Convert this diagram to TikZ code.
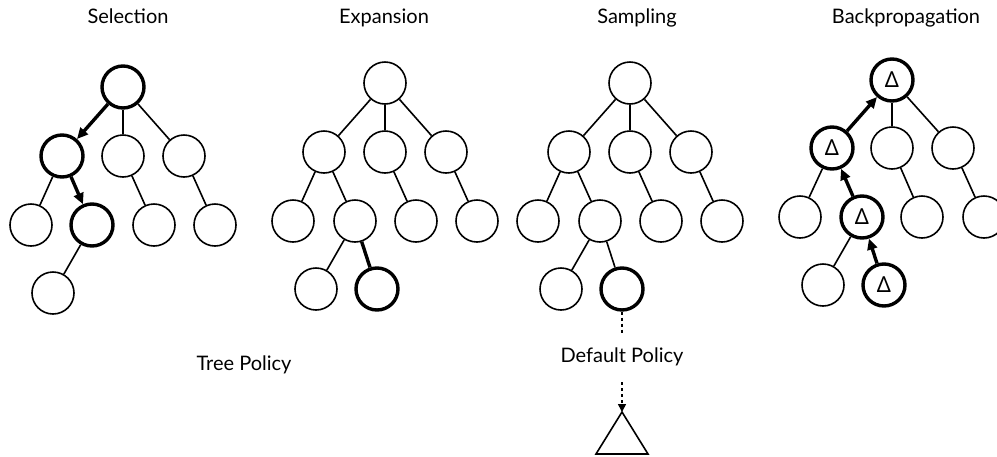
\documentclass[tikz,border=0pt]{standalone}
\usepackage{fontspec}
\setmainfont{Lato}
\newfontfamily\deltafont{Noto Sans}
\usetikzlibrary{arrows.meta}

\tikzset{
  treenode/.style={circle, draw, line width=1.6pt, minimum size=42pt, inner sep=0pt,
    font=\deltafont\fontsize{22}{22}\selectfont},
  pathnode/.style={treenode, line width=3.4pt},
  edge/.style={line width=1.6pt},
  pathedge/.style={line width=3.4pt},
  patharrow/.style={line width=3.4pt, -{Triangle[length=11pt,width=10pt]}},
  rollout/.style={line width=1.6pt, dash pattern=on 3pt off 3pt},
  stagetitle/.style={anchor=base, font=\fontsize{20}{24}\selectfont},
  policy/.style={anchor=base, font=\fontsize{20}{24}\selectfont},
}

\begin{document}
\begin{tikzpicture}[x=1pt,y=1pt,yscale=-1]
\useasboundingbox (0,0) rectangle (997,456);

% stage titles
\node[stagetitle] (sel-title) at (128,23) {Selection};
\node[stagetitle] (exp-title) at (384,23) {Expansion};
\node[stagetitle] (smp-title) at (637,23) {Sampling};
\node[stagetitle] (bkp-title) at (906,23) {Backpropagation};

% Selection tree
\foreach \n/\dx/\dy/\s in {r/0/0/pathnode, a/-61/69/pathnode, b/0/69/treenode, c/61/69/treenode,
    aa/-92/138/treenode, ab/-31/138/pathnode, ba/31/138/treenode, ca/92/138/treenode,
    aba/-70/206/treenode}
  \node[style/.expanded=\s] (sel-\n) at (123+\dx,87+\dy) {};
\foreach \u/\v in {r/b, r/c, a/aa, b/ba, c/ca, ab/aba}
  \draw[edge] (sel-\u) -- (sel-\v);
\draw[patharrow] (sel-r) -- (sel-a);
\draw[patharrow] (sel-a) -- (sel-ab);

% Expansion tree
\foreach \n/\dx/\dy/\s in {r/0/0/treenode, a/-61/69/treenode, b/0/69/treenode, c/61/69/treenode,
    aa/-92/138/treenode, ab/-30/138/treenode, ba/31/138/treenode, ca/92/138/treenode,
    aba/-69/206/treenode, abb/-8/206/pathnode}
  \node[style/.expanded=\s] (exp-\n) at (385+\dx,83+\dy) {};
\foreach \u/\v in {r/a, r/b, r/c, a/aa, a/ab, b/ba, c/ca, ab/aba}
  \draw[edge] (exp-\u) -- (exp-\v);
\draw[pathedge] (exp-ab) -- (exp-abb);

% Sampling tree
\foreach \n/\dx/\dy/\s in {r/0/0/treenode, a/-61/69/treenode, b/0/69/treenode, c/61/69/treenode,
    aa/-92/138/treenode, ab/-30/138/treenode, ba/31/138/treenode, ca/92/138/treenode,
    aba/-69/206/treenode, abb/-8/206/pathnode}
  \node[style/.expanded=\s] (smp-\n) at (630+\dx,83+\dy) {};
\foreach \u/\v in {r/a, r/b, r/c, a/aa, a/ab, b/ba, c/ca, ab/aba, ab/abb}
  \draw[edge] (smp-\u) -- (smp-\v);

% default policy rollout
\node[policy] (default-policy) at (622,362) {Default Policy};
\coordinate (rollout-stop) at (622,334);
\coordinate (rollout-start) at (622,382);
\coordinate (rollout-leaf) at (622,412);
\draw[rollout] (smp-abb) -- (rollout-stop);
\draw[rollout, -{Triangle[length=8pt,width=8pt]}] (rollout-start) -- (rollout-leaf);
\draw[line width=1.6pt, line join=miter] (rollout-leaf) -- ++(-26,42) -- ++(52,0) -- cycle;

\node[policy] (tree-policy) at (244,370) {Tree Policy};

% Backpropagation tree
\foreach \n/\dx/\dy/\s/\t in {r/0/0/pathnode/Δ, a/-60/68/pathnode/Δ, b/0/68/treenode/,
    c/61/68/treenode/, aa/-92/137/treenode/, ab/-30/137/pathnode/Δ, ba/30/137/treenode/,
    ca/92/137/treenode/, aba/-69/205/treenode/, abb/-8/205/pathnode/Δ}
  \node[style/.expanded=\s] (bkp-\n) at (892+\dx,80+\dy) {\t};
\foreach \u/\v in {r/b, r/c, a/aa, b/ba, c/ca, ab/aba}
  \draw[edge] (bkp-\u) -- (bkp-\v);
\draw[patharrow] (bkp-abb) -- (bkp-ab);
\draw[patharrow] (bkp-ab) -- (bkp-a);
\draw[patharrow] (bkp-a) -- (bkp-r);
\end{tikzpicture}
\end{document}
